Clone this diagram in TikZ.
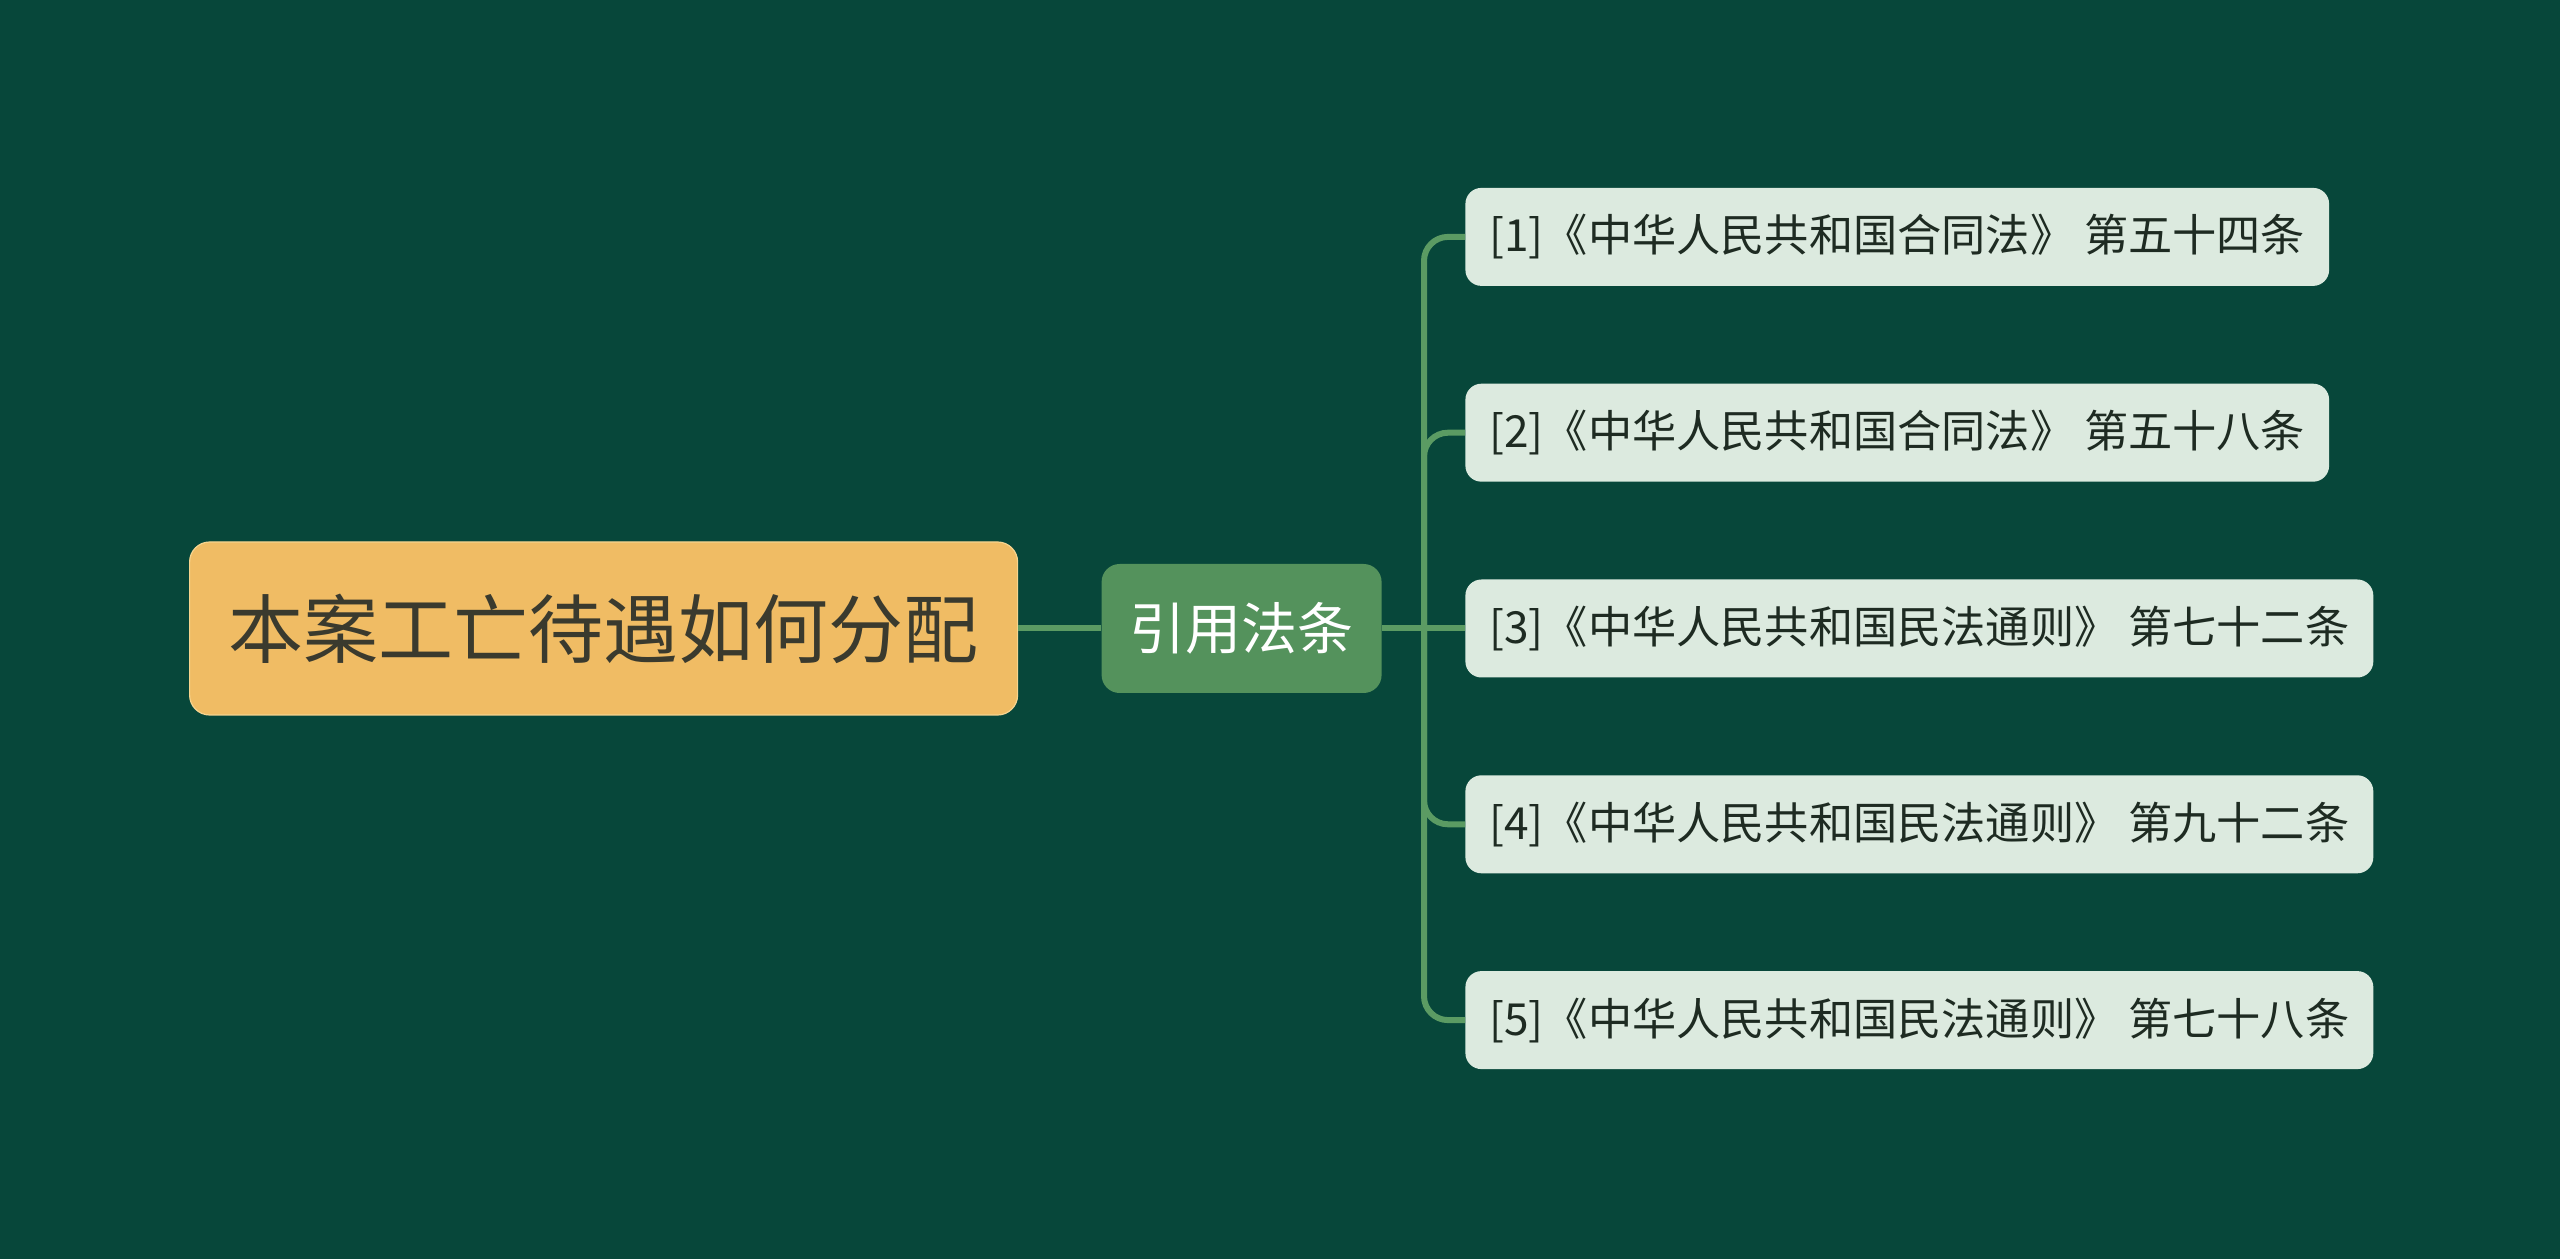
\documentclass[tikz,border=0pt]{standalone}
\usepackage{fontspec}
\newfontfamily\cjk{Noto Sans CJK SC}
\usepackage{xcolor}
\usepackage{tikz}
\usetikzlibrary{positioning}
\definecolor{bgcol}{HTML}{07473A}
\definecolor{rootcol}{HTML}{F0BC64}
\definecolor{rootedge}{HTML}{F6D48F}
\definecolor{roottext}{HTML}{3A3A2E}
\definecolor{midcol}{HTML}{54925C}
\definecolor{leafcol}{HTML}{DCEADF}
\definecolor{leaftext}{HTML}{1E2B22}
\definecolor{linkcol}{HTML}{5B9B63}
\tikzset{
  rootbox/.style={draw=rootedge, line width=0.6pt, fill=rootcol, rounded corners=10pt,
    text=roottext, font=\cjk\fontsize{37.5}{40}\selectfont,
    minimum height=86.5pt, inner xsep=19.5pt},
  midbox/.style={fill=midcol, rounded corners=9pt, text=white,
    font=\cjk\fontsize{28}{30}\selectfont,
    minimum height=64.5pt, inner xsep=14pt},
  leafbox/.style={fill=leafcol, rounded corners=8pt, text=leaftext,
    font=\cjk\fontsize{22.1}{24}\selectfont,
    minimum height=49pt, inner xsep=12pt},
  link/.style={draw=linkcol, line width=3pt, rounded corners=12pt}
}
\begin{document}
\begin{tikzpicture}[node distance=41.5pt and 41.5pt]
  \fill[bgcol] (0,0) rectangle (1280pt,629.5pt);
  \useasboundingbox (0,0) rectangle (1280pt,629.5pt);
  \node[rootbox, anchor=west] (root) at (94.5pt,315.25pt) {本案工亡待遇如何分配};
  \node[midbox, right=of root] (mid) {引用法条};
  \node[leafbox, right=of mid] (l3) {[3]《中华人民共和国民法通则》 第七十二条};
  \node[leafbox, above=48.5pt of l3.north west, anchor=south west] (l2) {[2]《中华人民共和国合同法》 第五十八条};
  \node[leafbox, above=48.5pt of l2.north west, anchor=south west] (l1) {[1]《中华人民共和国合同法》 第五十四条};
  \node[leafbox, below=48.5pt of l3.south west, anchor=north west] (l4) {[4]《中华人民共和国民法通则》 第九十二条};
  \node[leafbox, below=48.5pt of l4.south west, anchor=north west] (l5) {[5]《中华人民共和国民法通则》 第七十八条};
  \coordinate (fork) at ([xshift=21pt]mid.east);
  \draw[link] (root.east) -- (mid.west);
  \draw[link] (mid.east) -- (l3.west);
  \draw[link] (fork) |- (l1.west);
  \draw[link] (fork) |- (l2.west);
  \draw[link] (fork) |- (l4.west);
  \draw[link] (fork) |- (l5.west);
\end{tikzpicture}
\end{document}
